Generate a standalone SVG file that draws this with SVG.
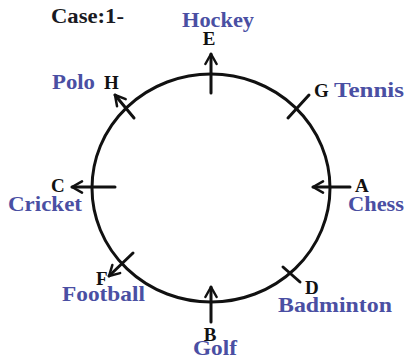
<svg xmlns="http://www.w3.org/2000/svg" width="406" height="358" viewBox="0 0 406 358">
<defs>
<marker id="ah" viewBox="0 0 12 12" refX="10" refY="6" markerWidth="5" markerHeight="5" orient="auto" markerUnits="strokeWidth">
<path d="M2,1.5 L10,6 L2,10.5" fill="none" stroke="#111" stroke-width="2" stroke-linecap="round" stroke-linejoin="round"/>
</marker>
</defs>
<style>
.l{stroke:#111;stroke-width:3;fill:none;stroke-linecap:round}
.t{font-family:"Liberation Serif","DejaVu Serif",serif;font-weight:bold}
.b{fill:#4a4fa3;font-size:21px}
.k{fill:#111;font-size:19px}
.c{fill:#1a1a22;font-size:20px}
</style>
<rect width="406" height="358" fill="#fff"/>
<text class="t c" x="51" y="23" textLength="73" lengthAdjust="spacingAndGlyphs">Case:1-</text>
<g id="circle"><ellipse cx="211" cy="188" rx="119" ry="114" class="l"/></g>
<g id="connectors">
<line class="l" x1="211" y1="93" x2="211" y2="54" marker-end="url(#ah)"/>
<line class="l" x1="134" y1="118" x2="115" y2="95" marker-end="url(#ah)"/>
<line class="l" x1="288" y1="118" x2="309" y2="95"/>
<line class="l" x1="115" y1="187" x2="72" y2="187" marker-end="url(#ah)"/>
<line class="l" x1="350" y1="187" x2="313" y2="187" marker-end="url(#ah)"/>
<line class="l" x1="133" y1="253" x2="109" y2="276" marker-end="url(#ah)"/>
<line class="l" x1="283" y1="267" x2="300" y2="282"/>
<line class="l" x1="211" y1="322" x2="211" y2="287" marker-end="url(#ah)"/>
</g>
<g id="E"><text class="t b" x="182" y="27" textLength="72" lengthAdjust="spacingAndGlyphs">Hockey</text><text class="t k" x="209" y="45" text-anchor="middle">E</text></g>
<g id="H"><text class="t b" x="52" y="89" textLength="43" lengthAdjust="spacingAndGlyphs">Polo</text><text class="t k" x="104" y="89">H</text></g>
<g id="G"><text class="t k" x="314" y="97">G</text><text class="t b" x="334" y="97" textLength="70" lengthAdjust="spacingAndGlyphs">Tennis</text></g>
<g id="C"><text class="t k" x="51" y="192">C</text><text class="t b" x="8" y="211" textLength="74" lengthAdjust="spacingAndGlyphs">Cricket</text></g>
<g id="A"><text class="t k" x="355" y="192">A</text><text class="t b" x="348" y="211" textLength="56" lengthAdjust="spacingAndGlyphs">Chess</text></g>
<g id="F"><text class="t k" x="96" y="285">F</text><text class="t b" x="62" y="301" textLength="83" lengthAdjust="spacingAndGlyphs">Football</text></g>
<g id="D"><text class="t k" x="305" y="294">D</text><text class="t b" x="278" y="312" textLength="114" lengthAdjust="spacingAndGlyphs">Badminton</text></g>
<g id="B"><text class="t k" x="210" y="341" text-anchor="middle">B</text><text class="t b" x="193" y="355" textLength="44" lengthAdjust="spacingAndGlyphs">Golf</text></g>
</svg>
